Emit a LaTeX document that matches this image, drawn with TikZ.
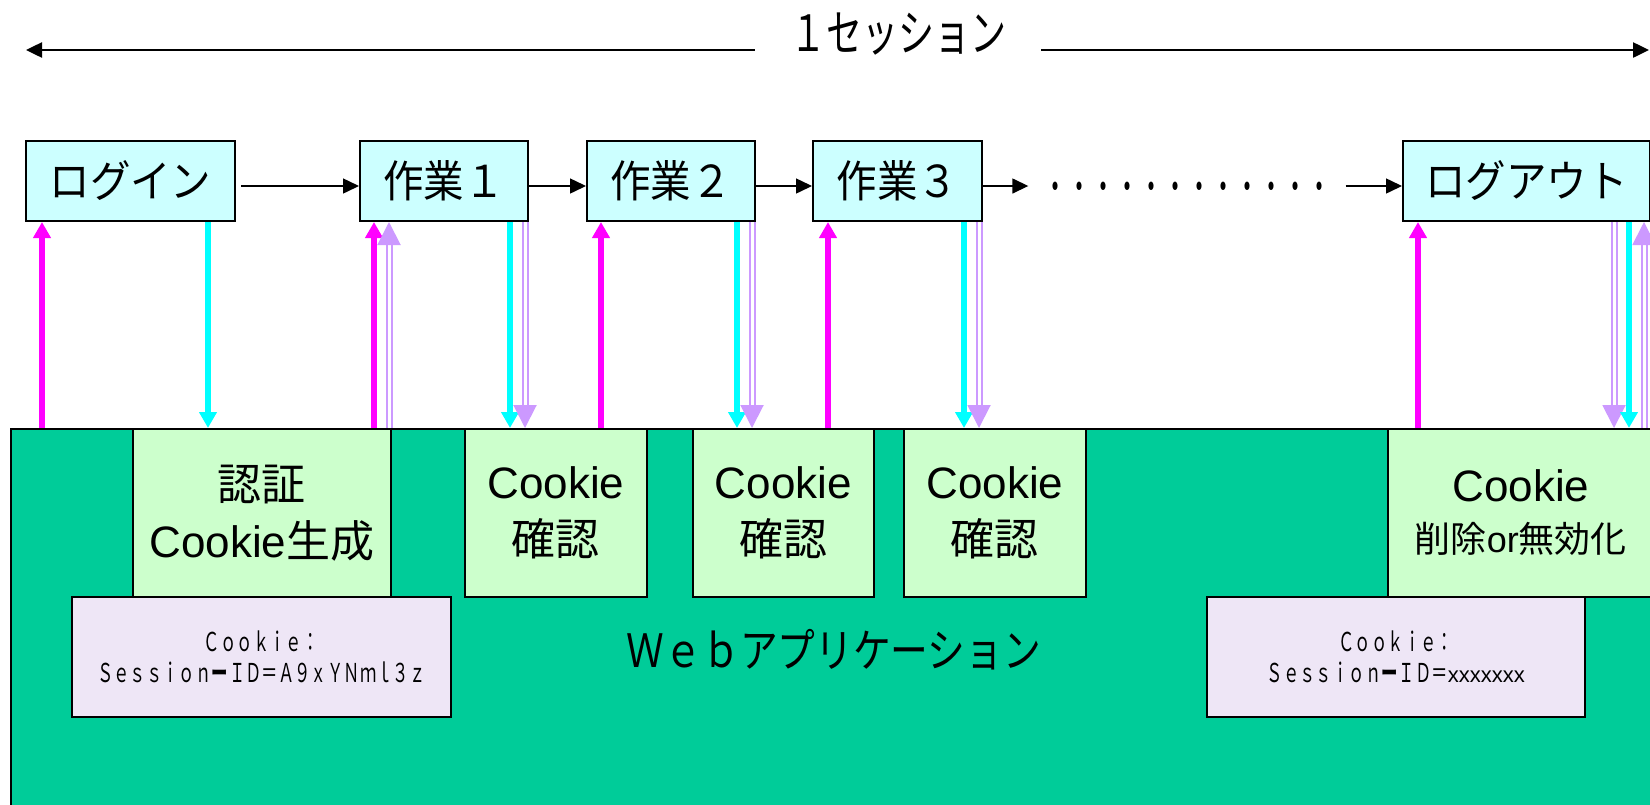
\documentclass[tikz,border=0pt]{standalone}
\usepackage{fontspec}
\setmainfont{Noto Sans CJK JP}
\newfontfamily\jp{Noto Sans CJK JP}
\newfontfamily\lib{Liberation Sans}
\newfontfamily\jpA[FakeStretch=0.72]{Noto Sans CJK JP}
\newfontfamily\jpB[FakeStretch=0.82]{Noto Sans CJK JP}
\newfontfamily\jpC[FakeStretch=0.63]{Noto Sans CJK JP}
\newfontfamily\jpD[FakeStretch=0.6]{Noto Sans CJK JP}
\newfontfamily\jpE[FakeStretch=0.92]{Noto Sans CJK JP}
\usetikzlibrary{arrows.meta}
\newcommand\fsz[2]{\fontsize{#1}{#2}\selectfont}
\definecolor{boxcyan}{HTML}{CCFFFF}
\definecolor{magc}{HTML}{FF00FF}
\definecolor{cyanc}{HTML}{00FFFF}
\definecolor{purpc}{HTML}{CC99FF}
\definecolor{webgreen}{HTML}{00CC99}
\definecolor{lgreen}{HTML}{CCFFCC}
\definecolor{lav}{HTML}{EEE6F6}
\tikzset{
  topbox/.style={draw=black, line width=2pt, fill=boxcyan, minimum height=80pt, inner sep=0pt, anchor=north west, font=\jpE\fsz{44}{50}},
  grbox/.style={draw=black, line width=1.6pt, fill=lgreen, minimum height=168pt, inner sep=0pt, anchor=north west, align=center, font=\fsz{44}{57}},
  lavbox/.style={draw=black, line width=1.6pt, fill=lav, minimum height=120pt, inner sep=0pt, anchor=north west, align=center, font=\jpC\fsz{26}{31}},
  flow/.style={draw=black, line width=1.5pt, -{Triangle[length=16pt,width=15pt]}},
  span/.style={draw=black, line width=2.5pt, -{Triangle[length=16pt,width=15pt]}},
  magarr/.style={draw=magc, line width=6pt, -{Triangle[length=16pt,width=17pt]}},
  cyaarr/.style={draw=cyanc, line width=6pt, -{Triangle[length=16pt,width=17pt]}},
  purarr/.style={draw=purpc, line width=2pt, double=white, double distance=3pt, -{Triangle[length=23pt,width=23pt]}}
}
\begin{document}
\begin{tikzpicture}[x=1pt,y=-1pt]
\useasboundingbox[fill=white] (0,0) rectangle (1650,804);
% web application area
\node[draw=black, line width=2pt, fill=webgreen, anchor=north west, minimum width=1700pt, minimum height=420pt, inner sep=0pt] (web) at (10,428) {};
% green process boxes
\node[grbox, minimum width=258pt] (auth) at (132,428) {{\jp 認証}\\{\lib Cookie}{\jp 生成}};
\node[grbox, minimum width=182pt] (c1) at (464,428) {{\lib Cookie}\\{\jp 確認}};
\node[grbox, minimum width=181pt] (c2) at (692,428) {{\lib Cookie}\\{\jp 確認}};
\node[grbox, minimum width=182pt] (c3) at (903,428) {{\lib Cookie}\\{\jp 確認}};
\node[grbox, minimum width=266pt] (del) at (1387,428) {{\lib Cookie}\\[-6pt]{\fsz{36}{40}\jp 削除{\lib or}無効化}};
% cookie value boxes
\node[lavbox, minimum width=379pt] (ck1) at (71,596) {Ｃｏｏｋｉｅ：\\Ｓｅｓｓｉｏｎ{\bfseries ー}\kern1ptＩＤ＝Ａ９ｘＹＮｍｌ３ｚ};
\node[lavbox, minimum width=378pt] (ck2) at (1206,596) {Ｃｏｏｋｉｅ：\\Ｓｅｓｓｉｏｎ{\bfseries ー}\kern1ptＩＤ＝{\lib\fsz{22}{31}xxxxxxx}};
\node[font=\jpB\fsz{46}{50}] (webl) at (834,650) {Ｗｅｂアプリケーション};
% top row
\node[topbox, minimum width=209pt] (login) at (25,140) {ログイン};
\node[topbox, minimum width=168pt] (w1) at (359,140) {作業１};
\node[topbox, minimum width=168pt] (w2) at (586,140) {作業２};
\node[topbox, minimum width=169pt] (w3) at (812,140) {作業３};
\node[topbox, minimum width=247pt] (logout) at (1402,140) {ログアウト};
\node[font=\jpD\fsz{40}{40}, inner xsep=14.5pt, inner ysep=0pt] (dots) at (1187,192) {・・・・・・・・・・・・};
% session span
\node[font=\jpA\fsz{50}{56}, inner xsep=35pt, inner ysep=0pt] (sess) at (898,34) {１セッション};
\coordinate (Lend) at (26,50);
\coordinate (Rend) at (1649,50);
\draw[span] (sess.west |- Lend) -- (Lend);
\draw[span] (sess.east |- Rend) -- (Rend);
% flow arrows
\draw[flow] (login.east |- 0,186) ++(5,0) -- (w1.west |- 0,186);
\draw[flow] (w1.east |- 0,186) -- (w2.west |- 0,186);
\draw[flow] (w2.east |- 0,186) -- (w3.west |- 0,186);
\draw[flow] (w3.east |- 0,186) -- (dots.west |- 0,186);
\draw[flow] (dots.east |- 0,186) -- (logout.west |- 0,186);
% requests (up) and responses (down)
\draw[magarr] (42,0 |- web.north) -- (42,0 |- login.south);
\draw[cyaarr] (208,0 |- login.south) -- (208,0 |- web.north);
\draw[magarr] (374,0 |- web.north) -- (374,0 |- w1.south);
\draw[purarr] (389,0 |- web.north) -- (389,0 |- w1.south);
\draw[cyaarr] (510,0 |- w1.south) -- (510,0 |- web.north);
\draw[purarr] (525,0 |- w1.south) -- (525,0 |- web.north);
\draw[magarr] (601,0 |- web.north) -- (601,0 |- w2.south);
\draw[cyaarr] (737,0 |- w2.south) -- (737,0 |- web.north);
\draw[purarr] (752,0 |- w2.south) -- (752,0 |- web.north);
\draw[magarr] (828,0 |- web.north) -- (828,0 |- w3.south);
\draw[cyaarr] (964,0 |- w3.south) -- (964,0 |- web.north);
\draw[purarr] (979,0 |- w3.south) -- (979,0 |- web.north);
\draw[magarr] (1418,0 |- web.north) -- (1418,0 |- logout.south);
\draw[purarr] (1614,0 |- logout.south) -- (1614,0 |- web.north);
\draw[cyaarr] (1629,0 |- logout.south) -- (1629,0 |- web.north);
\draw[purarr] (1644,0 |- web.north) -- (1644,0 |- logout.south);
\end{tikzpicture}
\end{document}
